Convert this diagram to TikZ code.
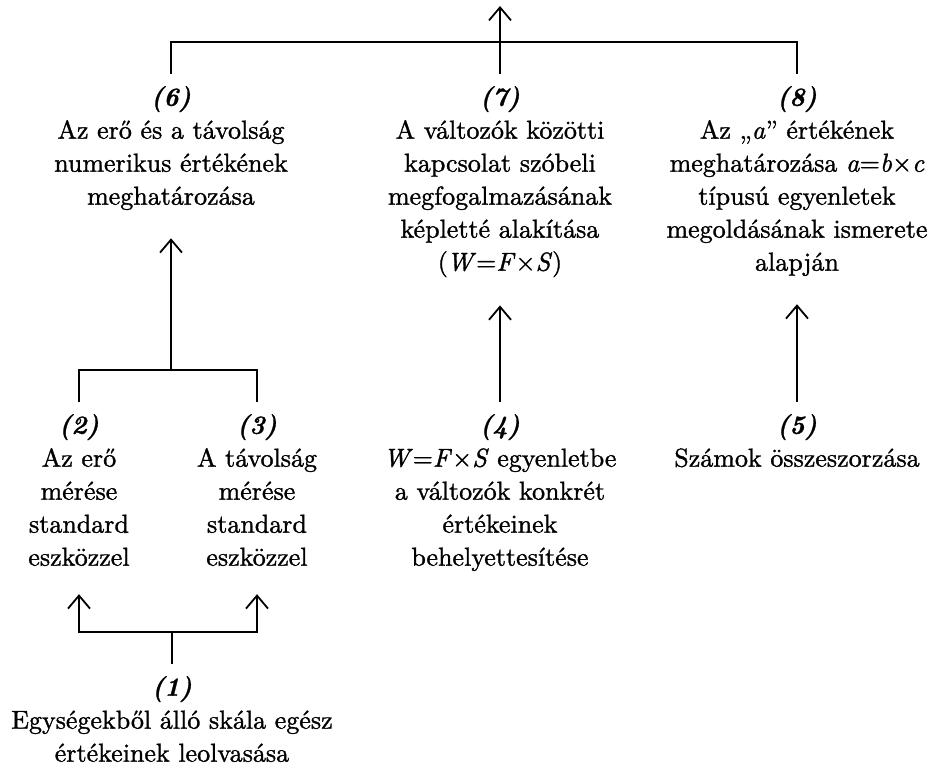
\documentclass[tikz,border=0pt]{standalone}
\usepackage{fontspec}
\setmainfont{lmroman10-regular.otf}[BoldFont=lmroman10-bold.otf, ItalicFont=lmroman10-italic.otf, BoldItalicFont=lmroman10-bolditalic.otf, FakeBold=1.2]
\usetikzlibrary{arrows.meta}
\newcommand{\lbl}[1]{\textbf{\textit{(#1)}}}
\tikzstyle{block}=[anchor=north, align=center, inner sep=12pt, font=\fontsize{26}{33}\selectfont]
\tikzstyle{edge}=[line width=1.8pt]
\tikzstyle{arrow}=[edge, -{Straight Barb[length=13pt,width=22pt]}, shorten >=16pt]

\begin{document}
\begin{tikzpicture}[x=1pt,y=-1pt]
            \useasboundingbox (0,0) rectangle (929,768);
            \node[block] (6) at (171,74) {\lbl{6}\\Az erő és a távolság\\numerikus értékének\\meghatározása};
            \node[block] (7) at (500,74) {\lbl{7}\\A változók közötti\\kapcsolat szóbeli\\megfogalmazásának\\képletté alakítása\\(\kern-1pt\textit{W}=\textit{F}×\textit{S})};
            \node[block] (8) at (797,74) {\lbl{8}\\Az „\textit{a}” értékének\\meghatározása \textit{a}=\textit{b}×\textit{c}\\típusú egyenletek\\megoldásának ismerete\\alapján};
            \node[block] (2) at (79,402) {\lbl{2}\\Az erő\\mérése\\standard\\eszközzel};
            \node[block] (3) at (257,402) {\lbl{3}\\A távolság\\mérése\\standard\\eszközzel};
            \node[block] (4) at (500,402) {\lbl{4}\\\textit{W}=\textit{F}×\textit{S} egyenletbe\\a változók konkrét\\értékeinek\\behelyettesítése};
            \node[block] (5) at (797,402) {\lbl{5}\\Számok összeszorzása};
            \node[block] (1) at (172,664) {\lbl{1}\\Egységekből álló skála egész\\értékeinek leolvasása};
            \coordinate (out) at (500,6);
            \draw[edge] (6.north) -- ++(0,-32) -| (8.north);
            \draw[arrow, shorten >=0pt] (7.north) -- (out);
            \draw[edge] (2.north) -- ++(0,-32) -| (3.north);
            \draw[arrow] (6.south |- 2.north) ++(0,-32) -- (6.south);
            \draw[arrow] (4.north) -- (7.south);
            \draw[arrow] (5.north) -- (8.south);
            \draw[edge] (1.north) -- ++(0,-32);
            \draw[arrow] (1.north) ++(0,-32) -| (2.south);
            \draw[arrow] (1.north) ++(0,-32) -| (3.south);
	    \end{tikzpicture}
\end{document}
